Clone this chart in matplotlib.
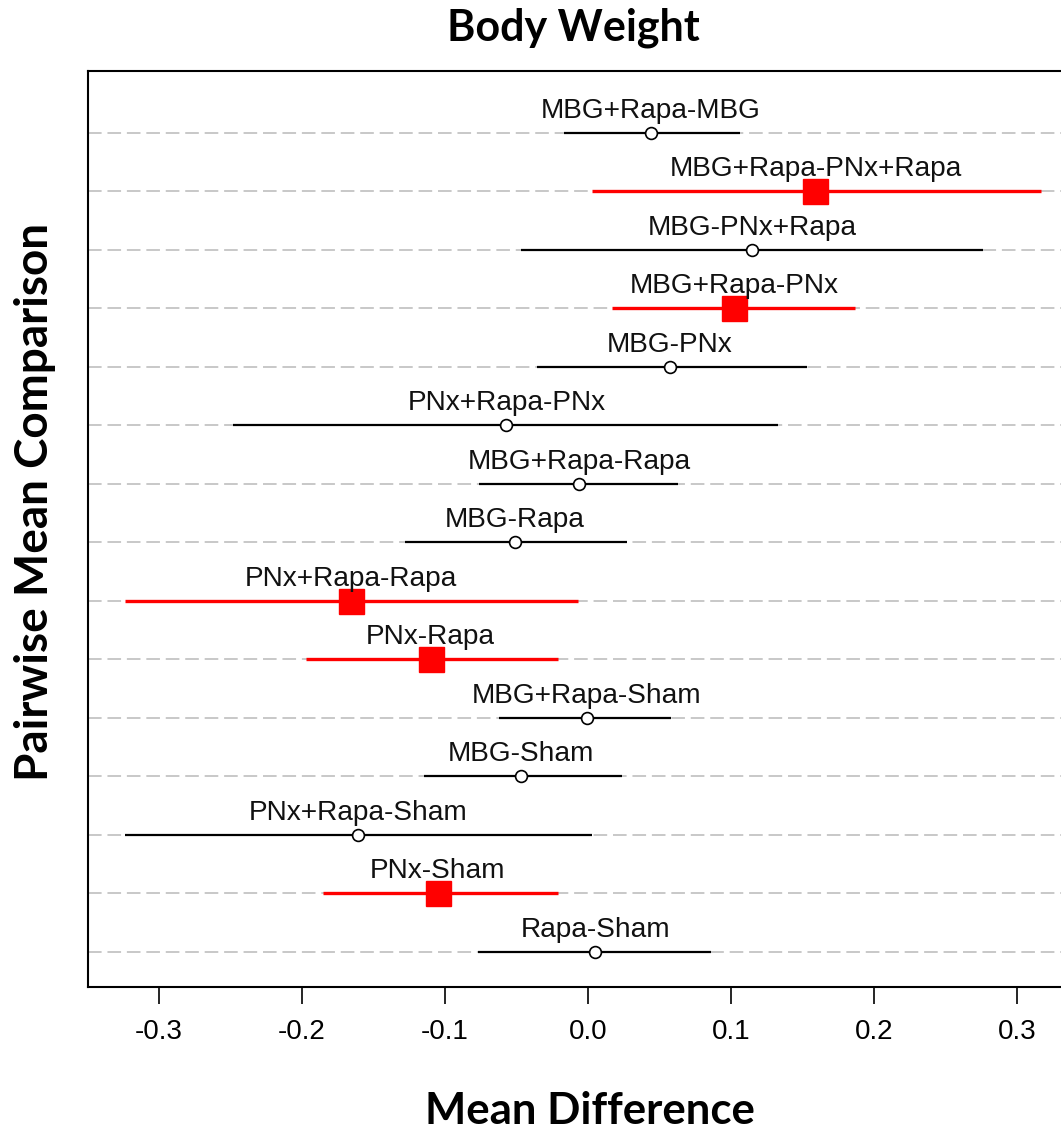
import matplotlib

matplotlib.use("Agg")

import matplotlib.pyplot as plt  # noqa: E402
import numpy as np  # noqa: E402

# Pairwise comparisons, top to bottom as drawn
comparisons = [
    "MBG+Rapa-MBG",
    "MBG+Rapa-PNx+Rapa",
    "MBG-PNx+Rapa",
    "MBG+Rapa-PNx",
    "MBG-PNx",
    "PNx+Rapa-PNx",
    "MBG+Rapa-Rapa",
    "MBG-Rapa",
    "PNx+Rapa-Rapa",
    "PNx-Rapa",
    "MBG+Rapa-Sham",
    "MBG-Sham",
    "PNx+Rapa-Sham",
    "PNx-Sham",
    "Rapa-Sham",
]
estimates = [0.044, 0.159, 0.115, 0.102, 0.057, -0.057, -0.006, -0.051,
             -0.166, -0.110, -0.001, -0.047, -0.161, -0.105, 0.005]
lower = [-0.017, 0.003, -0.047, 0.017, -0.036, -0.248, -0.076, -0.128,
         -0.324, -0.197, -0.062, -0.115, -0.324, -0.185, -0.077]
upper = [0.106, 0.317, 0.276, 0.187, 0.153, 0.133, 0.063, 0.027,
         -0.007, -0.021, 0.058, 0.024, 0.003, -0.021, 0.086]
significant = [False, True, False, True, False, False, False, False,
               True, True, False, False, False, True, False]
x_ticks = [-0.3, -0.2, -0.1, 0.0, 0.1, 0.2, 0.3]

W, H = 1061, 1137
fig = plt.figure(figsize=(W / 100, H / 100), dpi=100)

# axes box in pixels: left 88, right 1078 (runs off the canvas), top 71, bottom 987
left, right, top, bottom = 88, 1078, 71, 987
ax = fig.add_axes([left / W, 1 - bottom / H, (right - left) / W, (bottom - top) / H])

n = len(comparisons)
ypos = np.arange(n, 0, -1)

for y in ypos:
    ax.axhline(y, color="#c8c8c8", linewidth=1.4, linestyle=(0, (7, 3)), zorder=1)

for y, est, lo, hi, sig, name in zip(ypos, estimates, lower, upper, significant, comparisons):
    if sig:
        ax.plot([lo, hi], [y, y], color="#ff0000", linewidth=2.4, solid_capstyle="butt", zorder=2)
        ax.plot(est, y, marker="s", color="#ff0000", markersize=18, linestyle="none", zorder=3)
    else:
        ax.plot([lo, hi], [y, y], color="black", linewidth=1.6, solid_capstyle="butt", zorder=2)
        ax.plot(est, y, marker="o", markerfacecolor="white", markeredgecolor="black",
                markersize=8.5, markeredgewidth=1.2, linestyle="none", zorder=3)
    ax.annotate(name, (est, y), xytext=(0, 11), textcoords="offset points",
                ha="center", va="baseline", fontsize=20.2, family="Liberation Sans",
                color="#111111", zorder=4)

data_min, data_max = min(lower), max(upper)
pad = 0.04 * (data_max - data_min)
ax.set_xlim(data_min - pad, data_max + pad)
ax.set_ylim(0.4, n + 1.06)

ax.set_yticks([])
ax.set_xticks(x_ticks)
ax.set_xticklabels([f"{t:.1f}" for t in x_ticks], family="Liberation Sans", fontsize=20)
ax.tick_params(axis="x", length=12, width=1.2, pad=11, direction="out", colors="black")
for side in ["left", "top", "bottom", "right"]:
    ax.spines[side].set_linewidth(1.5)

fig.text(573 / W, 1 - 28 / H, "Body Weight", ha="center", va="center",
         fontsize=31, fontweight="bold", family="Lato")
fig.text(35 / W, 1 - 502 / H, "Pairwise Mean Comparison", ha="center", va="center",
         rotation=90, fontsize=33, fontweight="bold", family="Lato")
fig.text(590 / W, 1 - 1111 / H, "Mean Difference", ha="center", va="center",
         fontsize=31.5, fontweight="bold", family="Lato")

fig.savefig("out.png", dpi=100)
